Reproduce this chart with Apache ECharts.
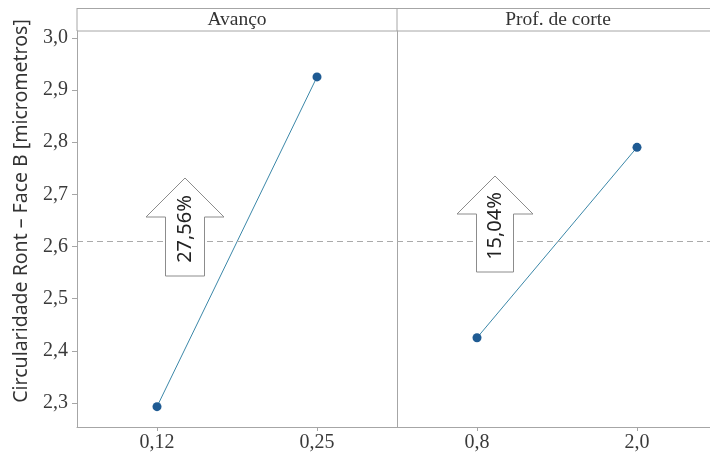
<!DOCTYPE html>
<html><head><meta charset="utf-8">
<script src="https://cdn.jsdelivr.net/npm/echarts@6/dist/echarts.min.js"></script>
<style>html,body{margin:0;padding:0;background:#fff}#c{width:710px;height:457px}</style>
</head><body><div id="c"></div>
<script>
const panelTitles = ['Avanço', 'Prof. de corte'];
const catsAvanco = ['0,12', '0,25'];
const valsAvanco = [2.293, 2.925];
const catsProf = ['0,8', '2,0'];
const valsProf = [2.425, 2.790];
const meanValue = 2.608;
const yTicks = [2.3, 2.4, 2.5, 2.6, 2.7, 2.8, 2.9, 3.0];
const effectLabels = ['27,56%', '15,04%'];

const chart = echarts.init(document.getElementById('c'), null, {renderer: 'canvas'});
const serif = '"Liberation Serif", "DejaVu Serif", serif';
const sans = '"Noto Sans", "Open Sans", sans-serif';
const axisGray = '#a6a6a6';

function yAxis(i, show) {
  return {
    type: 'value', gridIndex: i, min: 2.254, max: 3.013,
    axisLine: {show: true, lineStyle: {color: axisGray}},
    axisTick: {show: show, length: 5, lineStyle: {color: axisGray}, customValues: yTicks},
    axisLabel: {show: show, customValues: yTicks, margin: 9, color: '#3a3a3a', fontFamily: serif, fontSize: 20,
      formatter: v => v.toFixed(1).replace('.', ',')},
    splitLine: {show: false}
  };
}
function xAxis(i, cats) {
  return {
    type: 'category', gridIndex: i, data: cats, boundaryGap: true,
    axisLine: {show: true, lineStyle: {color: axisGray}},
    axisTick: {show: true, alignWithLabel: true, length: 4, lineStyle: {color: axisGray}},
    axisLabel: {margin: 6, color: '#3a3a3a', fontFamily: serif, fontSize: 20}
  };
}
function series(i, vals) {
  return {
    type: 'line', xAxisIndex: i, yAxisIndex: i, data: vals,
    symbol: 'circle', symbolSize: 9,
    itemStyle: {color: '#1f5b93'},
    lineStyle: {color: '#3b87a8', width: 1},
    markLine: {silent: true, symbol: 'none', label: {show: false},
      lineStyle: {color: '#aaaaaa', type: [6, 4], width: 1},
      data: [{yAxis: meanValue}]}
  };
}

chart.setOption({
  animation: false,
  grid: [
    {left: 77, top: 31, width: 320, bottom: 30, outerBoundsMode: 'none', containLabel: false},
    {left: 397, top: 31, width: 320, bottom: 30, outerBoundsMode: 'none', containLabel: false}
  ],
  xAxis: [xAxis(0, catsAvanco), xAxis(1, catsProf)],
  yAxis: [yAxis(0, true), yAxis(1, false)],
  series: [series(0, valsAvanco), series(1, valsProf)]
});

function arrow(cx, tipY, headY, baseY, headHalf, shaftHalf, label) {
  return [{
    type: 'polygon', z: 10,
    shape: {points: [[cx, tipY], [cx + headHalf, headY], [cx + shaftHalf, headY], [cx + shaftHalf, baseY],
      [cx - shaftHalf, baseY], [cx - shaftHalf, headY], [cx - headHalf, headY]]},
    style: {fill: '#fff', stroke: '#8c8c8c', lineWidth: 1}
  }, {
    type: 'text', z: 11, x: cx, y: (tipY + baseY) / 2 + 2, rotation: Math.PI / 2,
    style: {text: label, fontFamily: sans, fontSize: 20, fill: '#222', align: 'center', verticalAlign: 'middle'}
  }];
}
function hline(x1, x2, y) { return {type: 'line', shape: {x1, y1: y, x2, y2: y}, style: {stroke: axisGray, lineWidth: 1}}; }
function vline(x, y1, y2) { return {type: 'line', shape: {x1: x, y1, x2: x, y2}, style: {stroke: axisGray, lineWidth: 1}}; }

chart.setOption({
  graphic: [
    hline(77, 760, 8.5), hline(77, 760, 31), vline(77, 8, 31), vline(397, 8, 31),
    {type: 'text', x: 237, y: 20, style: {text: panelTitles[0], fontFamily: serif, fontSize: 19.5, fill: '#333', align: 'center', verticalAlign: 'middle'}},
    {type: 'text', x: 558, y: 20, style: {text: panelTitles[1], fontFamily: serif, fontSize: 19.5, fill: '#333', align: 'center', verticalAlign: 'middle'}},
    {type: 'text', x: 21, y: 211, rotation: Math.PI / 2,
      style: {text: 'Circularidade Ront – Face B [micrometros]', fontFamily: sans, fontSize: 19.5, fill: '#333', align: 'center', verticalAlign: 'middle'}},
    ...arrow(185, 178, 217, 276, 39, 19.5, effectLabels[0]),
    ...arrow(495, 176, 214, 272, 38, 18.5, effectLabels[1])
  ]
});
</script></body></html>
